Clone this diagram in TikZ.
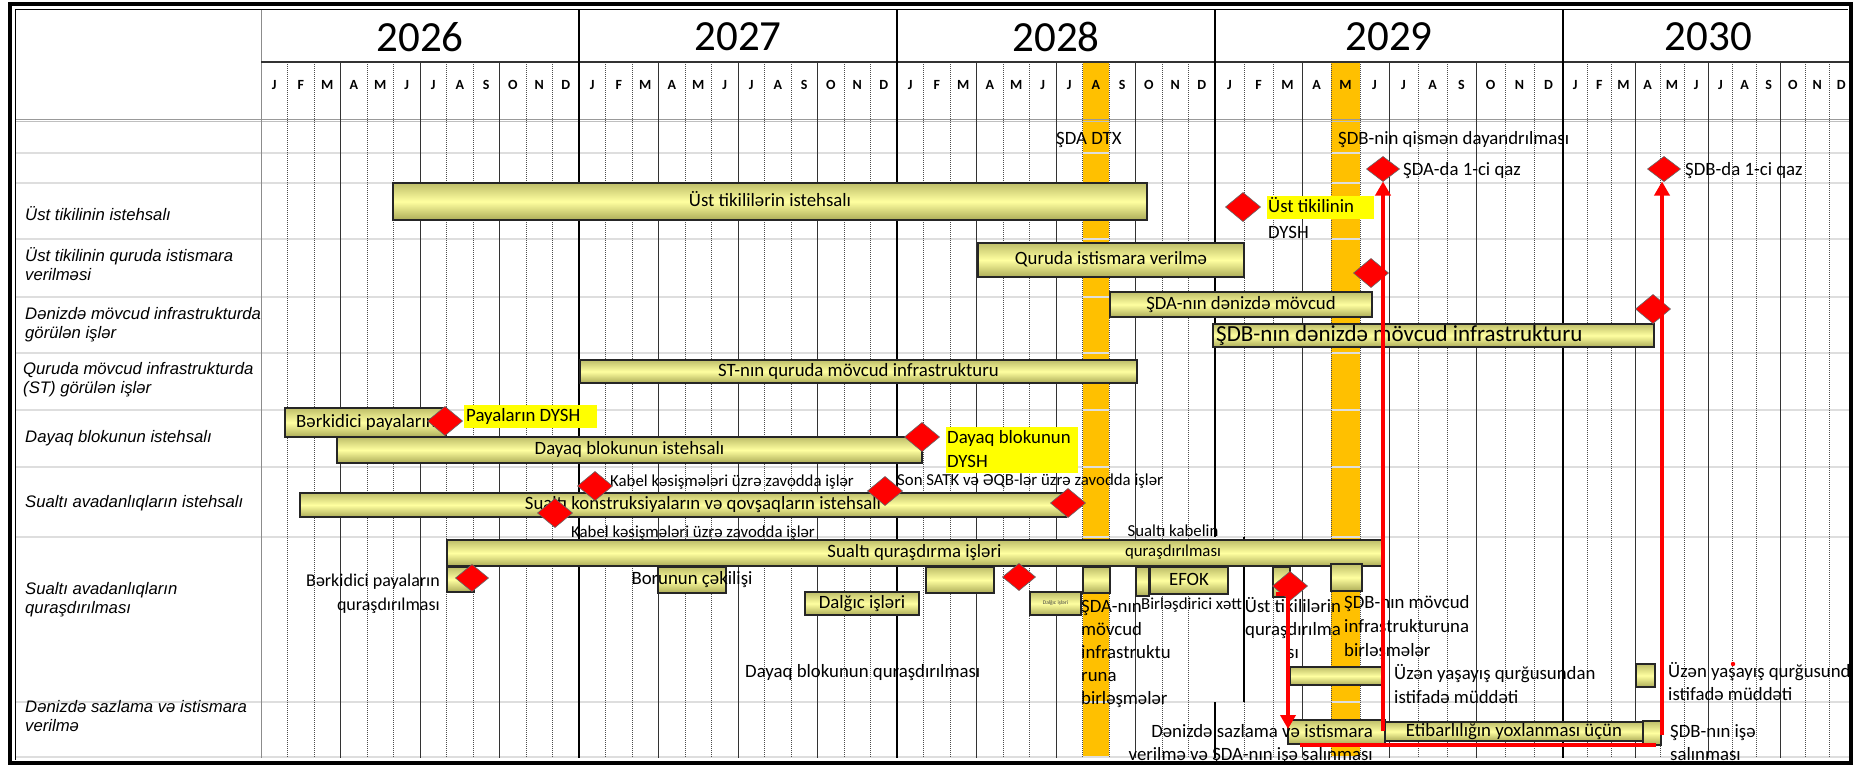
\documentclass[tikz,border=0pt]{standalone}
\usepackage{fontspec}
\setmainfont{Carlito}
\newfontfamily\lblfont{Liberation Sans}
\usetikzlibrary{shapes.geometric,arrows.meta}
\definecolor{orng}{RGB}{255,192,0}
\definecolor{hiyel}{RGB}{255,255,0}
\definecolor{msred}{RGB}{255,0,0}
\definecolor{barTop}{RGB}{190,190,105}
\definecolor{barMid}{RGB}{255,255,160}
\definecolor{barBot}{RGB}{172,172,88}
\definecolor{rowln}{RGB}{222,222,222}
\newcommand\fstrut{\rule{0pt}{16pt}}
\newcommand\sstrut{\rule{0pt}{14.5pt}}
\newcommand\lstrut{\rule{0pt}{15pt}}
\newcommand\gb[5]{\node[gbar, minimum width={#4-#2}, minimum height={#5-#3}] (#1) at (#2,#3) {};}
\tikzset{
 gbar/.style={draw=black!85, line width=1.1pt, top color=barTop, bottom color=barBot, middle color=barMid, inner sep=0pt, outer sep=0pt, anchor=north west},
 ms/.style={diamond, draw=black!60, line width=0.6pt, fill=msred, minimum width=35pt, minimum height=29pt, inner sep=0pt, outer sep=0pt},
 txt/.style={font=\fontsize{18.8}{23}\selectfont, inner sep=0pt, text height=13pt, text depth=4pt},
 stxt/.style={font=\fontsize{16.8}{20}\selectfont, inner sep=0pt, text height=11.5pt, text depth=3.5pt},
 mtxt/.style={font=\fontsize{18.8}{23}\selectfont, inner sep=0pt, align=left},
 lbl/.style={font=\lblfont\itshape\fontsize{16.7}{19}\selectfont, inner sep=0pt, align=left, anchor=north west},
 yrtxt/.style={font=\fontsize{43}{43}\selectfont, inner sep=0pt},
 motxt/.style={font=\bfseries\fontsize{14}{14}\selectfont, inner sep=0pt},
 redln/.style={draw=msred, line width=4pt},
 redarr/.style={redln, -{Triangle[length=14pt,width=15pt]}},
 dotln/.style={black!70, line width=0.6pt, dash pattern=on 1pt off 1pt},
 qln/.style={black!80, line width=0.8pt},
 yln/.style={black, line width=1.6pt},
}
\begin{document}
\begin{tikzpicture}[x=1pt,y=-1pt]
\useasboundingbox (0,0) rectangle (1857,766);
\fill[white] (0,0) rectangle (1857,766);
\begin{scope}
\clip (12,6) rectangle (1849,761);
% orange highlight columns
\fill[orng] (1082.5,62) rectangle (1109,758);
\fill[orng] (1331,62) rectangle (1360,758);
% row lines
\foreach \y in {153,183,239,297,353,410,467,537,702,757}
  \draw[rowln, line width=1.2pt] (15,\y) -- (1849,\y);
\draw[black!40, line width=1pt] (15,119) -- (1849,119);
\draw[black!25, line width=0.8pt] (15,121.5) -- (1849,121.5);
% month grid, years, month letters
\foreach \xs/\w/\yr in {261/26.5/2026,579/26.5/2027,897/26.5/2028,1215/29/2029,1563/24.2/2030}{
  \foreach \k in {1,2,4,5,7,8,10,11} \draw[dotln] ({\xs+\w*\k},62) -- ({\xs+\w*\k},758);
  \foreach \k in {3,6,9} \draw[qln] ({\xs+\w*\k},62) -- ({\xs+\w*\k},758);
  \node[yrtxt] (yr\yr) at ({\xs+6*\w},37) {\yr};
  \foreach \mo [count=\i from 0] in {J,F,M,A,M,J,J,A,S,O,N,D}
    \node[motxt] (m\yr-\i) at ({\xs+\w*\i+\w/2},85) {\mo};
}
\draw[black!45, line width=0.8pt] (261,9) -- (261,758);
\draw[black!80, line width=1.2pt] (261,62) -- (1849,62);
\draw[yln] (579,9) -- (579,758);
\draw[yln] (897,9) -- (897,758);
\draw[yln] (1563,9) -- (1563,758);
\draw[yln] (1215,9) -- (1215,537);
\draw[yln] (1215,702) -- (1215,758);
\draw[yln] (1244,537) -- (1244,702);
% row labels
\node[lbl] (l1) at (25,205.4) {\lstrut Üst tikilinin istehsalı};
\node[lbl] (l2) at (25,246.4) {\lstrut Üst tikilinin quruda istismara\\verilməsi};
\node[lbl] (l3) at (25,304.4) {\lstrut Dənizdə mövcud infrastrukturda\\görülən işlər};
\node[lbl] (l4) at (23,359.4) {\lstrut Quruda mövcud infrastrukturda\\(ST) görülən işlər};
\node[lbl] (l5) at (25,427.4) {\lstrut Dayaq blokunun istehsalı};
\node[lbl] (l6) at (25,492.4) {\lstrut Sualtı avadanlıqların istehsalı};
\node[lbl] (l7) at (25,579.4) {\lstrut Sualtı avadanlıqların\\quraşdırılması};
\node[lbl] (l8) at (25,697.4) {\lstrut Dənizdə sazlama və istismara\\verilmə};
% yellow highlights
\fill[hiyel] (1267,196) rectangle (1374,219);
\fill[hiyel] (464,405) rectangle (597,428);
\fill[hiyel] (946,427) rectangle (1078,473);
% bars
\gb{b1}{393}{183}{1147}{220}
\gb{b2}{978}{243}{1244}{277}
\gb{b3}{1110}{292}{1372}{317}
\gb{b4}{1213}{324}{1654}{347}
\gb{b5}{580}{360}{1137}{383}
\gb{b6}{285}{408}{446}{437}
\gb{b7}{337}{437}{922}{463}
\gb{b8}{300}{493}{1066}{517}
\gb{b9}{447}{540}{1382}{566}
\gb{b10}{447}{567}{474}{592}
\gb{b11}{658}{567}{726}{593}
\gb{b12}{805}{592}{919}{615}
\gb{b13}{926}{567}{994}{593}
\gb{b14}{1030}{592}{1081}{615}
\gb{b15}{1083}{567}{1110}{593}
\gb{b16}{1136}{567}{1149}{596}
\gb{b17}{1150}{567}{1228}{594}
\gb{b18}{1273}{567}{1290}{597}
\gb{b19}{1331}{564}{1362}{591}
\gb{b20}{1290}{667}{1382}{685}
\gb{b21}{1636}{664}{1655}{687}
\gb{b22}{1288}{720}{1385}{744}
\gb{b23}{1385}{722}{1643}{741}
\gb{b24}{1643}{721}{1661}{745}
% bar texts
\node[txt] (tb1) at (b1.center) {Üst tikililərin istehsalı};
\node[txt] (tb2) at (b2.center) {Quruda istismara verilmə};
\node[txt] (tb3) at (b3.center) {ŞDA-nın dənizdə mövcud};
\node[txt, font=\fontsize{23}{26}\selectfont, text height=16pt, text depth=5pt, anchor=west] (tb4) at (1216,336) {ŞDB-nın dənizdə mövcud infrastrukturu};
\node[txt] (tb5) at (b5.center) {ST-nın quruda mövcud infrastrukturu};
\node[txt, anchor=west] (tb6) at (296,423) {Bərkidici payaların};
\node[txt] (tb7) at (b7.center) {Dayaq blokunun istehsalı};
\node[txt] (tb8) at (703,505) {Sualtı konstruksiyaların və qovşaqların istehsalı};
\node[txt] (tb9) at (b9.center) {Sualtı quraşdırma işləri};
\node[txt] (tb11) at (b11.center) {Borunun çəkilişi};
\node[txt] (tb12) at (b12.center) {Dalğıc işləri};
\node[font=\fontsize{5.5}{6}\selectfont, inner sep=0pt, text=black!75] (tb14) at (b14.center) {Dalğıc işləri};
\node[txt] (tb17) at (b17.center) {EFOK};
\node[txt] (tb23) at (b23.center) {Etibarlılığın yoxlanması üçün};
% other texts
\node[txt, anchor=west] (tdtx) at (1056,140) {ŞDA DTX};
\node[txt, anchor=west] (tqism) at (1338,140) {ŞDB-nin qismən dayandrılması};
\node[txt, anchor=west] (tq1) at (1403,171) {ŞDA-da 1-ci qaz};
\node[txt, anchor=west] (tq2) at (1685,171) {ŞDB-da 1-ci qaz};
\node[mtxt, font=\fontsize{18.8}{26}\selectfont, anchor=north west] (tustd) at (1268,196.5) {\fstrut Üst tikilinin\\DYSH};
\node[txt, anchor=west] (tpay) at (466,417) {Payaların DYSH};
\node[mtxt, font=\fontsize{18.8}{24}\selectfont, anchor=north west] (tdayd) at (947,427.5) {\fstrut Dayaq blokunun\\DYSH};
\node[stxt, anchor=west] (tkab1) at (610,482) {Kabel kəsişmələri üzrə zavodda işlər};
\node[stxt, anchor=west] (tkab2) at (571,533) {Kabel kəsişmələri üzrə zavodda işlər};
\node[stxt, anchor=west] (tson) at (897,481) {Son SATK və ƏQB-lər üzrə zavodda işlər};
\node[font=\fontsize{16.8}{20}\selectfont, inner sep=0pt, align=center, anchor=north] (tskab) at (1173,521.5) {\sstrut Sualtı kabelin\\quraşdırılması};
\node[mtxt, font=\fontsize{18}{24}\selectfont, align=right, anchor=north east] (tberq) at (440,570.5) {\fstrut Bərkidici payaların\\quraşdırılması};
\node[txt, anchor=west] (tdayq) at (745,673) {Dayaq blokunun quraşdırılması};
\node[mtxt, anchor=north west] (tsda) at (1081,596.5) {\fstrut ŞDA-nın\\mövcud\\infrastruktu\\runa\\birləşmələr};
\node[stxt, anchor=west] (tbir) at (1141,605) {Birləşdirici xətt};
\node[mtxt, align=center, anchor=north] (tustq) at (1293,596.5) {\fstrut Üst tikililərin\\quraşdırılma\\sı};
\node[mtxt, font=\fontsize{18.8}{24}\selectfont, anchor=north west] (tsdb) at (1344,592.5) {\fstrut ŞDB-nın mövcud\\infrastrukturuna\\birləşmələr};
\node[mtxt, font=\fontsize{18.8}{24}\selectfont, anchor=north west] (tuzen1) at (1394,663.5) {\fstrut Üzən yaşayış qurğusundan\\istifadə müddəti};
\node[mtxt, anchor=north west] (tuzen2) at (1668,661.5) {\fstrut Üzən yaşayış qurğusundan\\istifadə müddəti};
\node[mtxt, align=right, anchor=north east] (tsaz) at (1373,721.5) {\fstrut Dənizdə sazlama və istismara\\verilmə və ŞDA-nın işə salınması};
\node[mtxt, anchor=north west] (tsdbis) at (1670,721.5) {\fstrut ŞDB-nın işə\\salınması};
% milestones
\node[ms, minimum width=33pt, minimum height=25pt] (d1) at (1383,169) {};
\node[ms, minimum width=33pt, minimum height=25pt] (d2) at (1664,169) {};
\node[ms] (d3) at (1243,207) {};
\node[ms] (d4) at (1371,273) {};
\node[ms] (d5) at (1653,309) {};
\node[ms] (d6) at (445,421) {};
\node[ms] (d7) at (922,437) {};
\node[ms] (d8) at (595,486) {};
\node[ms] (d9) at (555,513) {};
\node[ms] (d10) at (885,491) {};
\node[ms] (d11) at (1068,503) {};
\node[ms, minimum width=33pt, minimum height=27pt] (d12) at (472,578) {};
\node[ms, minimum width=33pt, minimum height=27pt] (d13) at (1019,577) {};
\node[ms] (d14) at (1290,586) {};
% red connectors
\coordinate (r1s) at (1383,731);
\draw[redarr] (r1s) -- (r1s |- d1.south);
\coordinate (r2a) at (1300,745);
\coordinate (r2b) at (1656,745);
\draw[redln] (r2a) -- (r2b);
\coordinate (r2s) at (1662,735);
\draw[redarr] (r2s) -- (r2s |- d2.south);
\coordinate (r3a) at (1276,594);
\coordinate (r3b) at (1288,594);
\coordinate (r3c) at (1288,729);
\draw[redarr] (r3a) -- (r3b) -- (r3c);
\fill[msred] (1733,664) circle (2.2);
\end{scope}
% frame
\draw[line width=4.5pt] (10,4) rectangle (1851,763);
\draw[line width=1pt] (15.5,760) -- (15.5,9.5) -- (1848,9.5);
\end{tikzpicture}
\end{document}
